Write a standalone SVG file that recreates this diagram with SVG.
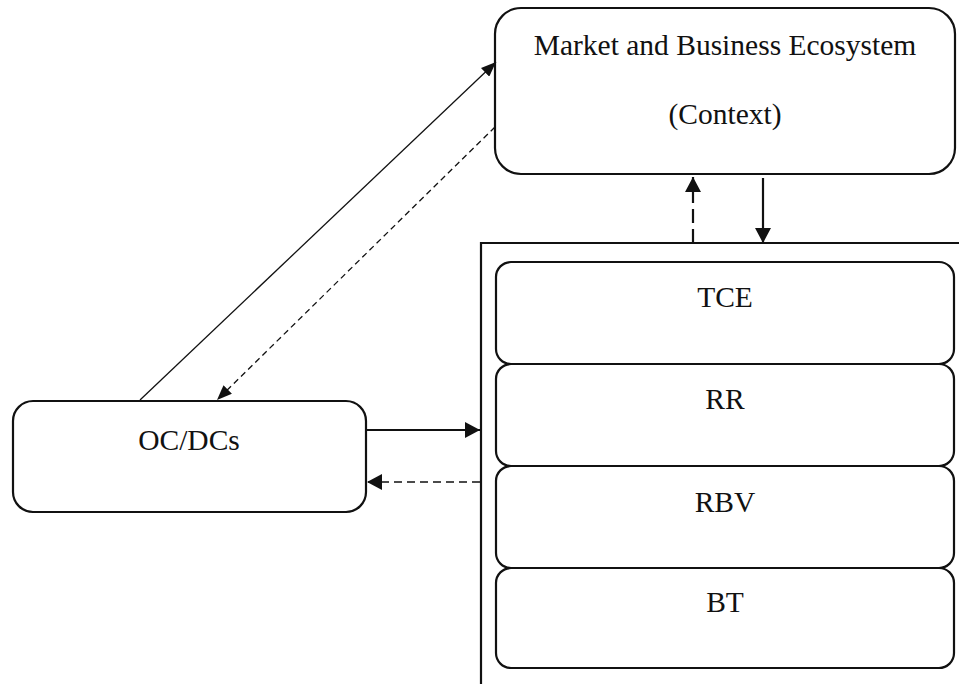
<svg xmlns="http://www.w3.org/2000/svg" width="959" height="684" viewBox="0 0 959 684">
<defs>
<marker id="ah" markerUnits="userSpaceOnUse" markerWidth="16" markerHeight="16" refX="15" refY="8" orient="auto"><path d="M0,0 L15,8 L0,16 Z" fill="#111"/></marker>
<marker id="ahs" markerUnits="userSpaceOnUse" markerWidth="16" markerHeight="12" refX="15" refY="6" orient="auto"><path d="M0,0 L15,6 L0,12 Z" fill="#111"/></marker>
</defs>
<style>
.box{fill:#fff;stroke:#111;stroke-width:2.2}
.t{font-family:"Liberation Serif","Times New Roman",serif;font-size:29.5px;fill:#111;text-anchor:middle}
.c{fill:none;stroke:#111}
</style>
<rect width="959" height="684" fill="#fff"/>
<g id="context">
<rect class="box" x="495" y="8" width="460" height="166" rx="26"/>
<text class="t" x="725" y="55">Market and Business Ecosystem</text>
<text class="t" x="725" y="124">(Context)</text>
</g>
<g id="container">
<path class="c" d="M481,684 V243 H959" stroke-width="2.2"/>
</g>
<g id="tce">
<rect class="box" x="496" y="262" width="458" height="102" rx="15"/>
<text class="t" x="725" y="307">TCE</text>
</g>
<g id="rr">
<rect class="box" x="496" y="364" width="458" height="102" rx="15"/>
<text class="t" x="725" y="409">RR</text>
</g>
<g id="rbv">
<rect class="box" x="496" y="466" width="458" height="102" rx="15"/>
<text class="t" x="725" y="512">RBV</text>
</g>
<g id="bt">
<rect class="box" x="496" y="568" width="458" height="100" rx="15"/>
<text class="t" x="725" y="612">BT</text>
</g>
<g id="ocdcs">
<rect class="box" x="13" y="401" width="353" height="111" rx="20"/>
<text class="t" x="189" y="450">OC/DCs</text>
</g>
<g id="connectors">
<line class="c" x1="140" y1="400" x2="496" y2="62" stroke-width="1.3" marker-end="url(#ahs)"/>
<line class="c" x1="495" y1="127" x2="217" y2="400" stroke-width="1.3" stroke-dasharray="6,4" marker-end="url(#ahs)"/>
<line class="c" x1="693" y1="243" x2="693" y2="177" stroke-width="2.2" stroke-dasharray="14,6" marker-end="url(#ah)"/>
<line class="c" x1="763" y1="178" x2="763" y2="243" stroke-width="2.2" marker-end="url(#ah)"/>
<line class="c" x1="367" y1="430" x2="480" y2="430" stroke-width="2.2" marker-end="url(#ah)"/>
<line class="c" x1="480" y1="482" x2="367" y2="482" stroke-width="1.6" stroke-dasharray="8,5" marker-end="url(#ah)"/>
</g>
</svg>
